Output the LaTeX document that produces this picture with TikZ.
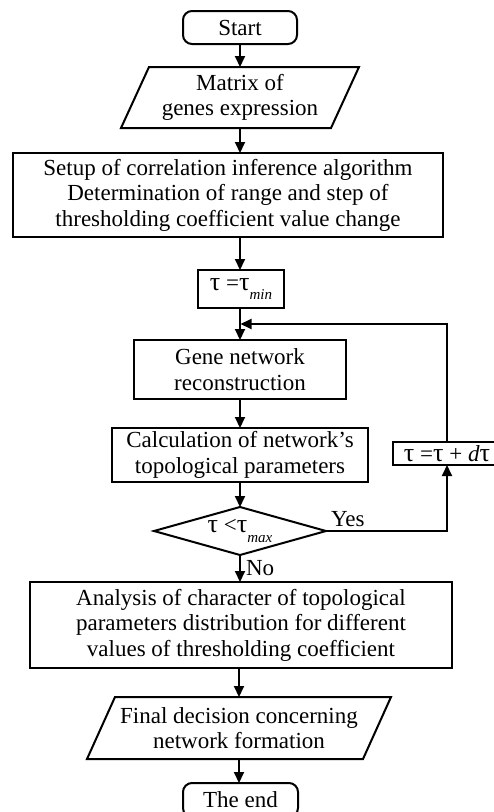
\documentclass[tikz,border=0pt]{standalone}
\usepackage{fontspec}
\setmainfont{Liberation Serif}
\usetikzlibrary{arrows.meta,calc}
\newcommand\lowsub[1]{\raisebox{-0.42em}{\fontsize{15}{15}\selectfont\itshape #1}}
\newcommand\tauch{{\fontsize{26}{25.5}\selectfont τ}}
\begin{document}
\begin{tikzpicture}[x=1pt,y=-1pt,
  every node/.style={font=\fontsize{23}{25.5}\selectfont, align=center, inner sep=0pt, outer sep=0pt},
  ln/.style={line width=2pt, line join=miter},
  arr/.style={ln, -{Triangle[length=11pt,width=10pt]}},
  box/.style n args={2}{draw, ln, rectangle, minimum width=#1, minimum height=#2},
  plain/.style n args={2}{rectangle, minimum width=#1, minimum height=#2},
  term/.style n args={2}{draw, ln, rectangle, rounded corners=9pt, minimum width=#1, minimum height=#2}]
\useasboundingbox (0,0) rectangle (494,812);

\node[term={114}{33}] (start) at (240,27.5) {Start};
\node[plain={210}{61}] (matrix) at (240,97.5) {Matrix of\\genes expression};
\draw[ln] ($(matrix.south west)+(-14,0)$) -- ($(matrix.south east)+(-14,0)$) -- ($(matrix.north east)+(14,0)$) -- ($(matrix.north west)+(14,0)$) -- cycle;
\node[box={430}{84}] (setup) at (228,195) {Setup of correlation inference algorithm\\Determination of range and step of\\thresholding coefficient value change};
\node[box={86}{38}] (tau) at (241,289) {\tauch\ =\tauch\lowsub{min}};
\node[box={212}{59}] (gene) at (240,369.5) {Gene network\\reconstruction};
\node[box={256}{54}] (calc) at (240,455) {Calculation of network’s\\topological parameters};
\node[plain={172}{48}] (cond) at (240,531) {\tauch\ <\tauch\lowsub{max}};
\draw[ln] (cond.north) -- (cond.east) -- (cond.south) -- (cond.west) -- cycle;
\node[box={108}{23}] (upd) at (447,453.5) {\tauch\ =\tauch\ + \textit{d}\tauch};
\node[box={422}{86}] (ana) at (241,625) {Analysis of character of topological\\parameters distribution for different\\values of thresholding coefficient};
\node[plain={276}{62}] (final) at (239,728) {Final decision concerning\\network formation};
\draw[ln] ($(final.south west)+(-14,0)$) -- ($(final.south east)+(-14,0)$) -- ($(final.north east)+(14,0)$) -- ($(final.north west)+(14,0)$) -- cycle;
\node[term={115}{34}] (end) at (240.5,800) {The end};

\coordinate (j) at ($(tau.south)!0.5!(gene.north)$);

\draw[arr] (start) -- (matrix);
\draw[arr] (matrix.south) -- (matrix.south |- setup.north);
\draw[arr] (setup.south -| start.south) -- (start.south |- tau.north);
\draw[arr] (start.south |- tau.south) -- (gene);
\draw[arr] (gene) -- (calc);
\draw[arr] (calc) -- (cond.north);
\draw[arr] (cond.south) -- node[right=6pt] {No} (cond.south |- ana.north);
\draw[arr] (ana.south -| final.north) -- (final.north);
\draw[arr] (final.south) -- (final.south |- end.north);
\draw[arr] (cond.east) -| node[pos=0.09, above=4pt] {Yes} (upd.south);
\draw[arr] (upd.north) |- (j);
\end{tikzpicture}
\end{document}
